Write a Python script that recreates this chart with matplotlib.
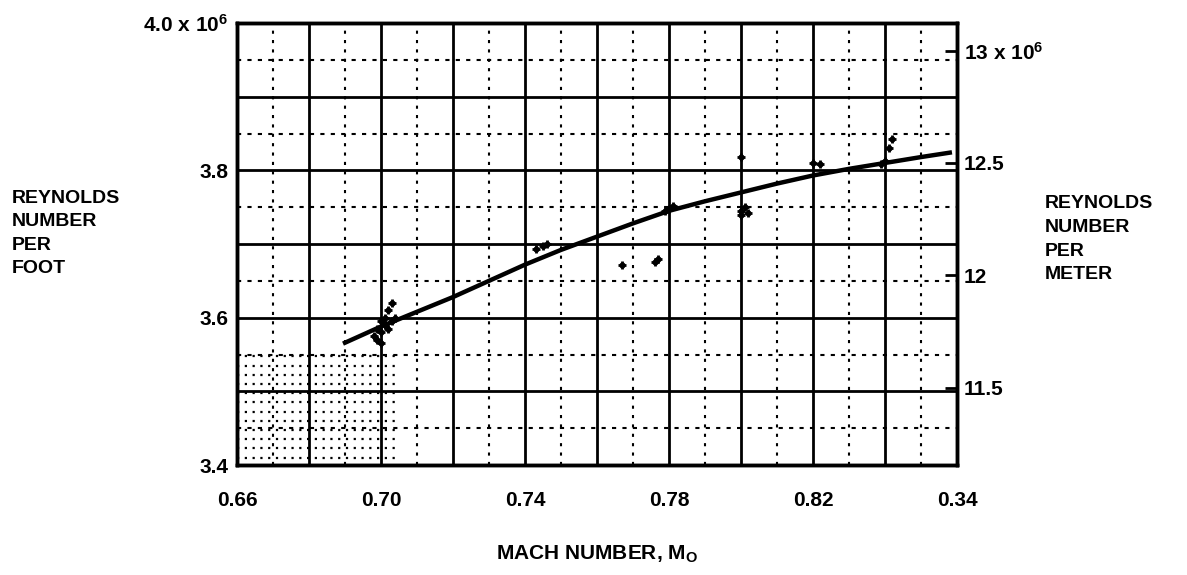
import numpy as np
import matplotlib
matplotlib.use("Agg")
import matplotlib.pyplot as plt

plt.rcParams['font.family'] = ['Liberation Sans', 'DejaVu Sans']
plt.rcParams['font.weight'] = 'bold'
plt.rcParams['mathtext.fontset'] = 'custom'
plt.rcParams['mathtext.rm'] = 'Liberation Sans:bold'
plt.rcParams['mathtext.it'] = 'Liberation Sans:bold'
plt.rcParams['mathtext.bf'] = 'Liberation Sans:bold'

# faired curve, Reynolds number per foot (x 10^6) vs Mach number
curve_mach = [0.690, 0.700, 0.710, 0.720, 0.730, 0.740, 0.750, 0.760, 0.770,
              0.780, 0.790, 0.800, 0.810, 0.820, 0.830, 0.840, 0.850, 0.858]
curve_re = [3.566, 3.588, 3.608, 3.628, 3.650, 3.672, 3.692, 3.710, 3.728,
            3.745, 3.758, 3.770, 3.782, 3.793, 3.802, 3.810, 3.818, 3.824]

# test points (scatter around curve)
pt_mach = [0.698, 0.699, 0.700, 0.700, 0.701, 0.701, 0.702, 0.702, 0.703, 0.703,
           0.704, 0.699, 0.700, 0.743, 0.745, 0.746, 0.767, 0.776, 0.777,
           0.779, 0.780, 0.781, 0.800, 0.800, 0.801, 0.802, 0.800, 0.820, 0.822,
           0.839, 0.840, 0.841, 0.842]
pt_re = [3.575, 3.585, 3.580, 3.595, 3.590, 3.600, 3.585, 3.610, 3.595, 3.620,
         3.600, 3.570, 3.565, 3.693, 3.697, 3.700, 3.672, 3.675, 3.680,
         3.745, 3.748, 3.752, 3.740, 3.745, 3.750, 3.742, 3.818, 3.810, 3.808,
         3.808, 3.812, 3.830, 3.842]

x_ticks = [0.66, 0.70, 0.74, 0.78, 0.82, 0.86]
x_tick_labels = ['0.66', '0.70', '0.74', '0.78', '0.82', '0.34']
y_ticks = [3.4, 3.6, 3.8, 4.0]
y_tick_labels = ['3.4', '3.6', '3.8', r'4.0 x 10$^6$']
meter_ticks = [11.5, 12.0, 12.5, 13.0]
meter_labels = ['11.5', '12', '12.5', r'13 x 10$^6$']

FT_PER_M = 0.3048

fig = plt.figure(figsize=(11.87, 5.75), dpi=100)
ax = fig.add_axes([0.1997, 0.1913, 0.6065, 0.7687])
ax.set_xlim(0.66, 0.86)
ax.set_ylim(3.4, 4.0)

# graph paper grid
for xv in np.arange(0.67, 0.86, 0.02):
    ax.axvline(xv, color='black', lw=1.5, ls=(0, (1.5, 3)), zorder=1)
for xv in np.arange(0.68, 0.859, 0.02):
    ax.axvline(xv, color='black', lw=2.0, zorder=1)
for yv in np.arange(3.45, 4.0, 0.1):
    ax.axhline(yv, color='black', lw=1.5, ls=(0, (2, 3)), zorder=1)
for yv in np.arange(3.5, 3.95, 0.1):
    ax.axhline(yv, color='black', lw=2.0, zorder=1)

# fine stipple of the paper in the lower left corner
for yv in np.arange(3.41, 3.55, 0.0125):
    ax.plot([0.66, 0.705], [yv, yv], color='black', lw=1.6,
            ls=(0, (1, 2.5)), zorder=1)

ax.plot(curve_mach, curve_re, color='black', lw=3.2, zorder=3)
ax.scatter(pt_mach, pt_re, s=30, color='black', marker='+', linewidths=2, zorder=4)
ax.scatter(pt_mach, pt_re, s=12, color='black', zorder=4)

for sp in ax.spines.values():
    sp.set_linewidth(2.5)

ax.set_xticks(x_ticks)
ax.set_xticklabels(x_tick_labels)
ax.set_yticks(y_ticks)
ax.set_yticklabels(y_tick_labels)
ax.tick_params(axis='both', length=0, labelsize=15)
ax.tick_params(axis='x', pad=19)
ax.tick_params(axis='y', pad=6)

ax2 = ax.twinx()
ax2.set_ylim(3.4 / FT_PER_M, 4.0 / FT_PER_M)
ax2.set_yticks(meter_ticks)
ax2.set_yticklabels(meter_labels)
ax2.tick_params(axis='y', direction='in', length=9, width=2, labelsize=15, pad=5)
for sp in ax2.spines.values():
    sp.set_linewidth(2.5)

ax.set_xlabel(r'MACH NUMBER, M$_\mathregular{O}$', fontsize=15,
              fontweight='bold', labelpad=24)

fig.text(0.010, 0.670, 'REYNOLDS\nNUMBER\nPER\nFOOT', fontsize=14,
         fontweight='bold', ha='left', va='top', linespacing=1.5)
fig.text(0.880, 0.660, 'REYNOLDS\nNUMBER\nPER\nMETER', fontsize=14,
         fontweight='bold', ha='left', va='top', linespacing=1.5)

fig.savefig('out.png', dpi=100)
